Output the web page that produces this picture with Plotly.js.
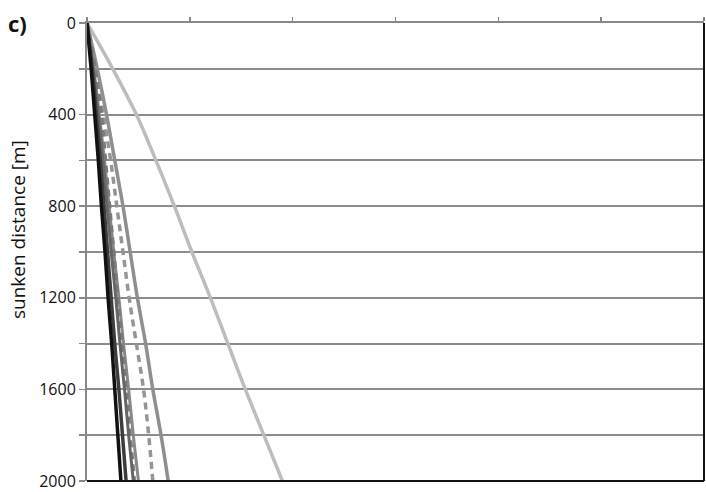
<!DOCTYPE html>
<html><head><meta charset="utf-8">
<script src="https://cdn.plot.ly/plotly-3.0.1.min.js"></script>
<style>html,body{margin:0;padding:0;background:#fff}</style>
</head><body><div id="chart" style="width:706px;height:492px"></div>
<script>
// Depths (sunken distance, m)
const depth = [0,200,400,600,800,1000,1200,1400,1600,1800,2000];
// Horizontal values per series (in axis-tick units)
const sBlack   = [0,0.04,0.075,0.11,0.14,0.175,0.205,0.24,0.27,0.30,0.33];
const sDark    = [0,0.05,0.09,0.13,0.165,0.20,0.235,0.27,0.31,0.345,0.38];
const sGray1   = [0,0.06,0.11,0.155,0.195,0.235,0.28,0.32,0.365,0.405,0.45];
const sDash1   = [0,0.08,0.14,0.18,0.22,0.26,0.30,0.34,0.38,0.42,0.46];
const sGray2   = [0,0.065,0.12,0.17,0.215,0.26,0.31,0.355,0.405,0.45,0.50];
const sDash2   = [0,0.09,0.16,0.23,0.29,0.35,0.41,0.48,0.55,0.60,0.64];
const sMid     = [0,0.10,0.19,0.27,0.35,0.42,0.49,0.57,0.64,0.72,0.79];
const sLight   = [0,0.25,0.48,0.67,0.85,1.02,1.20,1.37,1.54,1.72,1.90];
const yTicks = [0,200,400,600,800,1000,1200,1400,1600,1800,2000];
const yLabels = ['0','','400','','800','','1200','','1600','','2000'];
const xTicks = [0,1,2,3,4,5,6];

function tr(x, color, width, dash){
  return {x:x, y:depth, type:'scatter', mode:'lines', line:{color:color, width:width, dash:dash||'solid', shape:'spline', smoothing:1}, hoverinfo:'skip', cliponaxis:false};
}
const data = [
  tr(sLight,'#bdbdbd',3.5),
  tr(sMid,'#8f8f8f',3.5),
  tr(sDash2,'#959595',3.5,'7px,5px'),
  tr(sGray2,'#888888',3),
  tr(sDash1,'#7a7a7a',3.5,'7px,5px'),
  tr(sGray1,'#666666',3),
  tr(sDark,'#3c3c3c',3.5),
  tr(sBlack,'#111111',3.5)
];
const layout = {
  width:706, height:492,
  margin:{l:87, r:2, t:23, b:11},
  paper_bgcolor:'#fff', plot_bgcolor:'#fff',
  showlegend:false,
  font:{family:'Open Sans, sans-serif', size:17, color:'#111'},
  xaxis:{range:[0,6], side:'top', tickmode:'array', tickvals:xTicks, showticklabels:false,
    ticks:'outside', ticklen:4, tickcolor:'#888', tickwidth:1.5,
    showline:true, linecolor:'#888', linewidth:2, showgrid:false, zeroline:false, fixedrange:true},
  yaxis:{range:[2000,0], tickmode:'array', tickvals:yTicks, ticktext:yLabels,
    ticks:'outside', ticklen:6, tickcolor:'#888', tickwidth:1.5, ticklabeloverflow:'allow',
    showline:true, linecolor:'#888', linewidth:2,
    showgrid:true, gridcolor:'#8c8c8c', gridwidth:2, zeroline:false,
    tickfont:{size:16, color:'#111'}, fixedrange:true},
  shapes:[
    {type:'line', xref:'paper', yref:'paper', x0:1, x1:1, y0:0, y1:1, line:{color:'#111', width:2}},
    {type:'line', xref:'paper', yref:'paper', x0:0, x1:1, y0:0, y1:0, line:{color:'#111', width:2}}
  ],
  annotations:[
    {text:'sunken distance [m]', xref:'paper', yref:'paper', x:-0.112, y:0.55, textangle:-90,
     xanchor:'center', yanchor:'middle', showarrow:false, font:{size:19, color:'#111'}},
    {text:'<b>c)</b>', xref:'paper', yref:'paper', x:-0.113, y:1.0, xanchor:'center', yanchor:'middle',
     showarrow:false, font:{size:22, color:'#111'}}
  ]
};
Plotly.newPlot('chart', data, layout, {displayModeBar:false, staticPlot:true});
</script></body></html>
